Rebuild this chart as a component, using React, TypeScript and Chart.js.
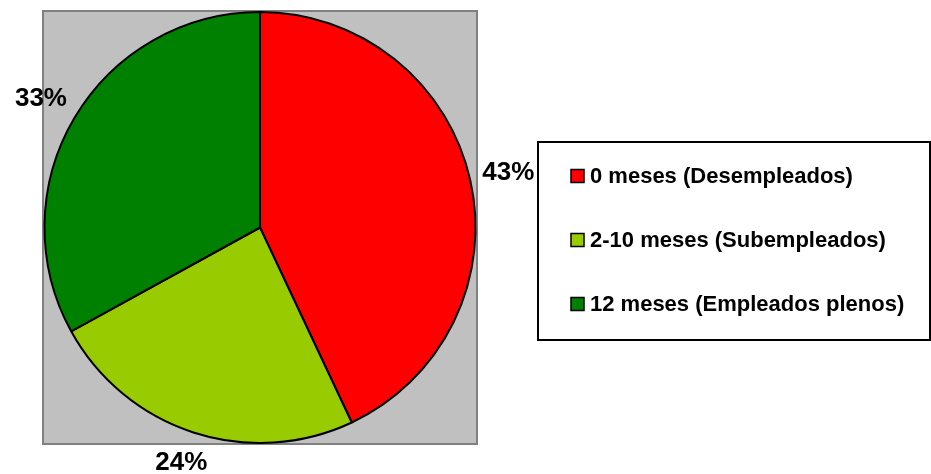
import React, { useEffect, useRef } from "react";
import { Chart, registerables } from "chart.js";

Chart.register(...registerables);

const categories = [
  "0 meses (Desempleados)",
  "2-10 meses (Subempleados)",
  "12 meses (Empleados plenos)",
];
const values = [43, 24, 33];
const colors = ["#FF0000", "#99CC00", "#008000"];

const FONT = "'Liberation Sans', Arial, sans-serif";

const decorPlugin = {
  id: "decor",
  beforeDraw(chart: any) {
    const { ctx, chartArea } = chart;
    ctx.save();
    ctx.fillStyle = "#C0C0C0";
    ctx.fillRect(chartArea.left, chartArea.top, chartArea.right - chartArea.left, chartArea.bottom - chartArea.top);
    ctx.strokeStyle = "#808080";
    ctx.lineWidth = 2;
    ctx.strokeRect(chartArea.left, chartArea.top, chartArea.right - chartArea.left, chartArea.bottom - chartArea.top);
    ctx.restore();
  },
  afterDraw(chart: any) {
    const { ctx } = chart;
    const meta = chart.getDatasetMeta(0);
    const data = chart.data.datasets[0].data as number[];
    const total = data.reduce((a, b) => a + b, 0);
    ctx.save();
    // percentage labels
    ctx.font = `bold 26px ${FONT}`;
    ctx.fillStyle = "#000";
    ctx.textAlign = "center";
    ctx.textBaseline = "middle";
    meta.data.forEach((arc: any, i: number) => {
      const mid = (arc.startAngle + arc.endAngle) / 2;
      const d = arc.outerRadius + 39;
      let x = arc.x + Math.cos(mid) * d;
      let y = arc.y + Math.sin(mid) * d;
      y = Math.min(y, chart.height - 12);
      const txt = Math.round((data[i] / total) * 100) + "%";
      ctx.fillText(txt, x, y + 1);
    });
    // legend box
    const bx = 538, by = 142, bw = 392, bh = 198;
    ctx.fillStyle = "#FFFFFF";
    ctx.fillRect(bx, by, bw, bh);
    ctx.strokeStyle = "#000";
    ctx.lineWidth = 2;
    ctx.strokeRect(bx, by, bw, bh);
    ctx.font = `bold 22px ${FONT}`;
    ctx.textAlign = "left";
    ctx.textBaseline = "middle";
    const labels = chart.data.labels as string[];
    const bg = chart.data.datasets[0].backgroundColor as string[];
    labels.forEach((lab, i) => {
      const cy = by + 34 + i * 64;
      ctx.fillStyle = bg[i];
      ctx.fillRect(571, cy - 6.5, 13, 13);
      ctx.strokeStyle = "#000";
      ctx.lineWidth = 1.5;
      ctx.strokeRect(571, cy - 6.5, 13, 13);
      ctx.fillStyle = "#000";
      ctx.fillText(lab, 590, cy + 1);
    });
    ctx.restore();
  },
};

export default function App() {
  const ref = useRef<HTMLCanvasElement>(null);
  useEffect(() => {
    document.body.style.margin = "0";
    const chart = new Chart(ref.current!, {
      type: "pie",
      data: {
        labels: categories,
        datasets: [
          {
            data: values,
            backgroundColor: colors,
            borderColor: "#000000",
            borderWidth: 2,
          },
        ],
      },
      options: {
        animation: false,
        responsive: false,
        maintainAspectRatio: false,
        layout: { padding: { left: 43, top: 11, right: 454, bottom: 30 } },
        plugins: { legend: { display: false }, tooltip: { enabled: false } },
      },
      plugins: [decorPlugin],
    });
    return () => chart.destroy();
  }, []);
  return (
    <div style={{ position: "absolute", left: 0, top: 0, width: 931, height: 474, background: "#fff" }}>
      <canvas ref={ref} width={931} height={474} style={{ width: 931, height: 474 }} />
    </div>
  );
}
